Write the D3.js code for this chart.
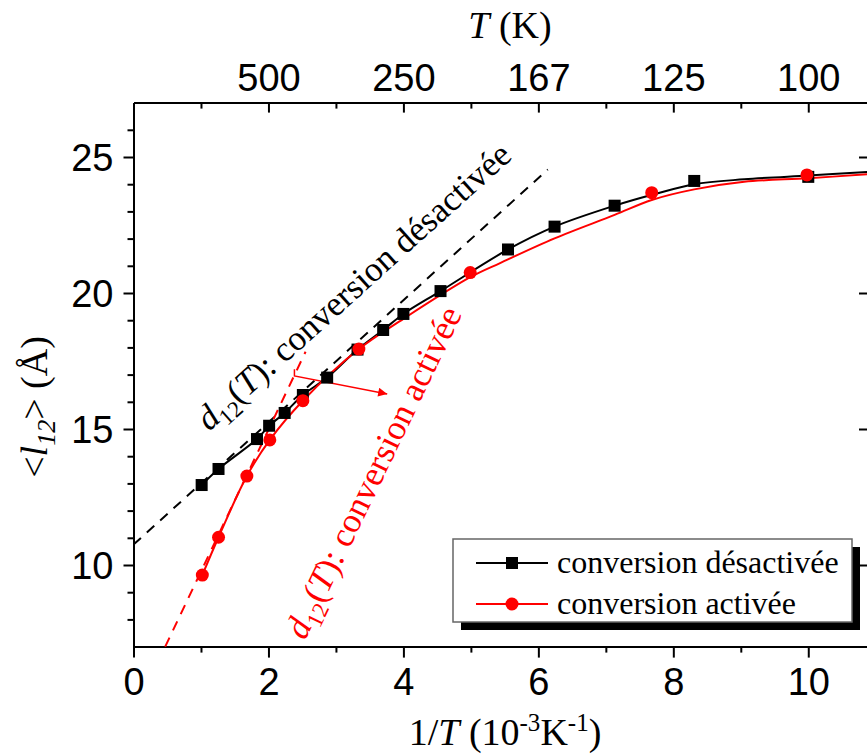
<!DOCTYPE html>
<html><head><meta charset="utf-8">
<script src="https://cdn.jsdelivr.net/npm/d3@7"></script>
<style>body{margin:0;background:#fff}svg{display:block}</style>
</head><body>
<script>
// ---- data ----
const blackX = [1.01, 1.26, 1.83, 2.01, 2.24, 2.51, 2.87, 3.32, 3.70, 4.00, 4.55, 5.55, 6.24, 7.13, 8.31, 10.0];
const blackY = [12.94, 13.53, 14.63, 15.12, 15.59, 16.25, 16.89, 17.92, 18.64, 19.23, 20.07, 21.60, 22.44, 23.21, 24.12, 24.27];
const blackCurveX = [1.01, 1.26, 1.83, 2.01, 2.24, 2.51, 2.87, 3.32, 3.70, 4.00, 4.55, 5.55, 6.24, 7.13, 7.7, 8.31, 9.05, 10.0, 10.9];
const blackCurveY = [12.94, 13.53, 14.63, 15.12, 15.59, 16.25, 16.89, 17.92, 18.64, 19.23, 20.07, 21.60, 22.44, 23.21, 23.62, 24.0, 24.18, 24.32, 24.45];
const redX = [1.02, 1.26, 1.68, 2.02, 2.51, 3.34, 4.99, 7.68, 9.98];
const redY = [9.63, 11.02, 13.27, 14.60, 16.04, 17.94, 20.75, 23.69, 24.34];
const redCurveX = [1.02, 1.26, 1.68, 2.02, 2.51, 3.34, 4.0, 4.99, 5.44, 6.24, 7.13, 7.68, 8.31, 9.05, 10.0, 10.9];
const redCurveY = [9.63, 11.02, 13.27, 14.60, 16.04, 17.94, 19.05, 20.58, 21.11, 22.01, 22.87, 23.42, 23.81, 24.09, 24.22, 24.37];
const blackDashX = [0, 6.14];
const blackDashY = [10.75, 24.54];
const redDashX = [0.47, 2.55];
const redDashY = [7.0, 17.84];
const bracketX = [2.385, 2.385, 3.76];
const bracketY = [17.2, 16.95, 16.29];
const xTicks = [0, 2, 4, 6, 8, 10];
const xMinor = [1, 3, 5, 7, 9];
const yTicks = [10, 15, 20, 25];
const yMinor = [8, 9, 11, 12, 13, 14, 16, 17, 18, 19, 21, 22, 23, 24, 26];
const topTicks = [2, 4, 6, 8, 10];
const topLabels = ["500", "250", "167", "125", "100"];
const seriesNames = ["conversion désactivée", "conversion activée"];

const W = 867, H = 756;
const m = {left: 133.5, right: 869, top: 102.6, bottom: 646.6};
const svg = d3.select("body").append("svg").attr("width", W).attr("height", H);
const x = d3.scaleLinear().domain([0, 10.9]).range([m.left, m.right]);
const y = d3.scaleLinear().domain([7, 27]).range([m.bottom, m.top]);
const SANS = "'Liberation Sans', Arial, sans-serif";
const SERIF = "'Liberation Serif', 'Times New Roman', serif";

const defs = svg.append("defs");
defs.append("marker").attr("id", "arr").attr("viewBox", "0 0 10 10").attr("refX", 10).attr("refY", 5)
  .attr("markerWidth", 14).attr("markerHeight", 9).attr("markerUnits", "userSpaceOnUse").attr("orient", "auto")
  .append("path").attr("d", "M0,0 L10,5 L0,10 Z").attr("fill", "red");

function styleAxis(g, size) {
  g.select(".domain").attr("stroke", "#000").attr("stroke-width", 2);
  g.selectAll(".tick line").attr("stroke", "#000").attr("stroke-width", 2);
  g.selectAll(".tick text").attr("font-family", SANS).attr("font-size", size).attr("fill", "#000");
}

// bottom axis
const gb = svg.append("g").attr("transform", `translate(0,${m.bottom})`)
  .call(d3.axisBottom(x).tickValues(xTicks).tickSize(11).tickPadding(10).tickSizeOuter(0).tickFormat(d3.format("d")));
styleAxis(gb, 38);
svg.append("g").attr("transform", `translate(0,${m.bottom})`)
  .call(d3.axisBottom(x).tickValues(xMinor).tickSize(6).tickFormat("").tickSizeOuter(0))
  .call(g => { g.select(".domain").remove(); styleAxis(g, 0); });

// left axis
const gl = svg.append("g").attr("transform", `translate(${m.left},0)`)
  .call(d3.axisLeft(y).tickValues(yTicks).tickSize(10).tickPadding(10).tickSizeOuter(0));
styleAxis(gl, 38);
gl.selectAll(".tick text").attr("dy", "0.36em");
svg.append("g").attr("transform", `translate(${m.left},0)`)
  .call(d3.axisLeft(y).tickValues(yMinor).tickSize(6).tickFormat("").tickSizeOuter(0))
  .call(g => { g.select(".domain").remove(); styleAxis(g, 0); });

// top axis (ticks inward)
const gt = svg.append("g").attr("transform", `translate(0,${m.top})`)
  .call(d3.axisTop(x).tickValues(topTicks).tickSize(-10).tickSizeOuter(0)
    .tickFormat((d, i) => topLabels[i]));
styleAxis(gt, 38);
gt.selectAll(".tick text").attr("y", -12);
svg.append("g").attr("transform", `translate(0,${m.top})`)
  .call(d3.axisTop(x).tickValues(xMinor).tickSize(-6).tickFormat("").tickSizeOuter(0))
  .call(g => { g.select(".domain").remove(); styleAxis(g, 0); });

// right axis (ticks inward)
const gr = svg.append("g").attr("transform", `translate(${m.right},0)`)
  .call(d3.axisRight(y).tickValues(yTicks).tickSize(-10).tickFormat("").tickSizeOuter(0));
styleAxis(gr, 0);

// dashed lines
const line = d3.line().x(d => x(d[0])).y(d => y(d[1]));
svg.append("path").datum(blackDashX.map((v, i) => [v, blackDashY[i]])).attr("d", line)
  .attr("stroke", "#000").attr("stroke-width", 2).attr("stroke-dasharray", "10,8").attr("fill", "none");
svg.append("path").datum(redDashX.map((v, i) => [v, redDashY[i]])).attr("d", line)
  .attr("stroke", "red").attr("stroke-width", 2).attr("stroke-dasharray", "10,8").attr("fill", "none");

// bracket + arrow
svg.append("path").datum(bracketX.map((v, i) => [v, bracketY[i]])).attr("d", line)
  .attr("stroke", "red").attr("stroke-width", 1.5).attr("fill", "none").attr("marker-end", "url(#arr)");

// curves
const curve = d3.line().x(d => x(d[0])).y(d => y(d[1])).curve(d3.curveCatmullRom.alpha(0.5));
svg.append("path").datum(blackCurveX.map((v, i) => [v, blackCurveY[i]])).attr("d", curve)
  .attr("stroke", "#000").attr("stroke-width", 2).attr("fill", "none");
svg.append("path").datum(redCurveX.map((v, i) => [v, redCurveY[i]])).attr("d", curve)
  .attr("stroke", "red").attr("stroke-width", 2).attr("fill", "none");

// markers
svg.append("g").selectAll("rect").data(blackX.map((v, i) => [v, blackY[i]])).join("rect")
  .attr("x", d => x(d[0]) - 6).attr("y", d => y(d[1]) - 6).attr("width", 12).attr("height", 12).attr("fill", "#000");
svg.append("g").selectAll("circle").data(redX.map((v, i) => [v, redY[i]])).join("circle")
  .attr("cx", d => x(d[0])).attr("cy", d => y(d[1])).attr("r", 6.5).attr("fill", "red");

// rotated annotations
function annot(px, py, ang, color, rest) {
  const t = svg.append("text").attr("transform", `translate(${px},${py}) rotate(${ang})`)
    .attr("font-family", SERIF).attr("font-size", 35).attr("fill", color);
  t.append("tspan").attr("font-style", "italic").text("d");
  t.append("tspan").attr("font-size", 23).attr("dy", 8).text("12");
  t.append("tspan").attr("dy", -8).text("(");
  t.append("tspan").attr("font-style", "italic").text("T");
  t.append("tspan").text("): " + rest);
}
annot(209, 432, -42, "#000", "conversion désactivée");
annot(305, 641, -64.3, "red", "conversion activée");

// axis titles
const tx = svg.append("text").attr("x", 505).attr("y", 745).attr("text-anchor", "middle")
  .attr("font-family", SERIF).attr("font-size", 38).attr("fill", "#000");
tx.append("tspan").text("1/");
tx.append("tspan").attr("font-style", "italic").text("T");
tx.append("tspan").text(" (10");
tx.append("tspan").attr("font-size", 25).attr("dy", -14).text("-3");
tx.append("tspan").attr("dy", 14).text("K");
tx.append("tspan").attr("font-size", 25).attr("dy", -14).text("-1");
tx.append("tspan").attr("dy", 14).text(")");

const tt = svg.append("text").attr("x", 510).attr("y", 38).attr("text-anchor", "middle")
  .attr("font-family", SERIF).attr("font-size", 38).attr("fill", "#000");
tt.append("tspan").attr("font-style", "italic").text("T");
tt.append("tspan").text(" (K)");

const ty = svg.append("text").attr("transform", "translate(47,407) rotate(-90)").attr("text-anchor", "middle")
  .attr("font-family", SERIF).attr("font-size", 38).attr("fill", "#000");
ty.append("tspan").text("<");
ty.append("tspan").attr("font-style", "italic").text("l");
ty.append("tspan").attr("font-style", "italic").attr("font-size", 26).attr("dy", 8).text("12");
ty.append("tspan").attr("dy", -8).text("> (Å)");

// legend
const lg = svg.append("g");
lg.append("rect").attr("x", 461).attr("y", 547).attr("width", 399).attr("height", 83).attr("fill", "#000");
lg.append("rect").attr("x", 453).attr("y", 539).attr("width", 399).attr("height", 83)
  .attr("fill", "#fff").attr("stroke", "#666").attr("stroke-width", 1.5);
const rows = [{c: "#000", sym: "sq", y: 563}, {c: "red", sym: "ci", y: 604}];
rows.forEach((r, i) => {
  lg.append("line").attr("x1", 476).attr("x2", 548).attr("y1", r.y).attr("y2", r.y).attr("stroke", r.c).attr("stroke-width", 2);
  if (r.sym === "sq") lg.append("rect").attr("x", 506).attr("y", r.y - 6).attr("width", 12).attr("height", 12).attr("fill", r.c);
  else lg.append("circle").attr("cx", 512).attr("cy", r.y).attr("r", 6.5).attr("fill", r.c);
  lg.append("text").attr("x", 557).attr("y", r.y + 10).attr("font-family", SERIF).attr("font-size", 32)
    .attr("fill", "#000").text(seriesNames[i]);
});
</script>
</body></html>
